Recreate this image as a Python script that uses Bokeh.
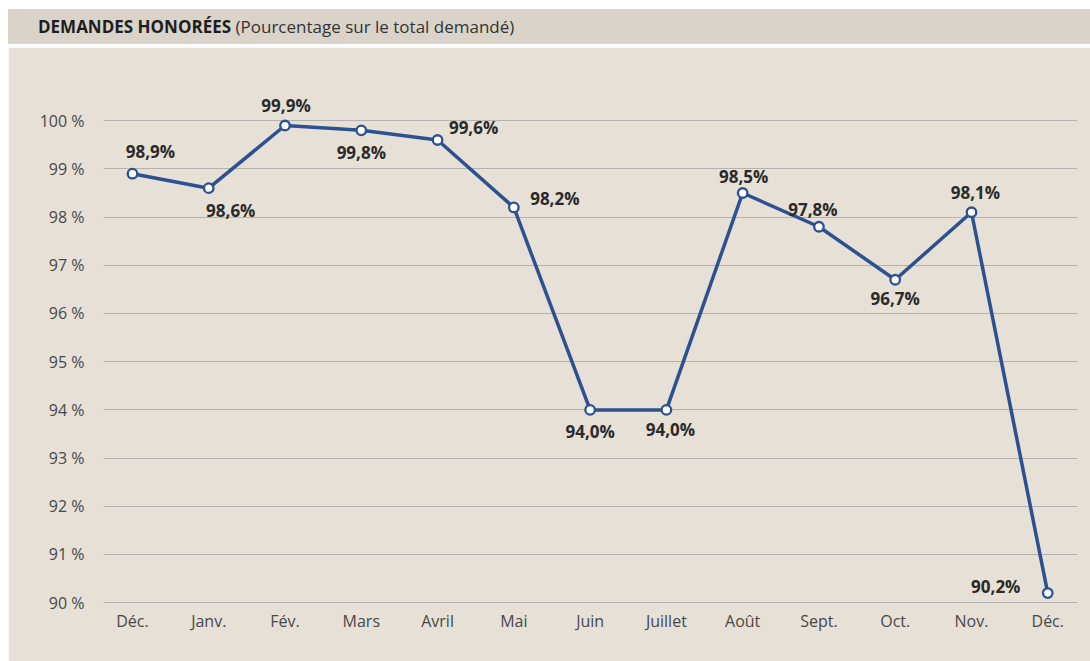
from bokeh.plotting import figure
from bokeh.models import ColumnDataSource, FixedTicker, Div
from bokeh.layouts import column
from bokeh.embed import file_html
from bokeh.resources import INLINE
from bokeh.core.properties import value

# ---- data ----
months = ["Déc.", "Janv.", "Fév.", "Mars", "Avril", "Mai", "Juin",
          "Juillet", "Août", "Sept.", "Oct.", "Nov.", "Déc."]
pct = [98.9, 98.6, 99.9, 99.8, 99.6, 98.2, 94.0, 94.0, 98.5, 97.8, 96.7, 98.1, 90.2]
pct_labels = ["98,9%", "98,6%", "99,9%", "99,8%", "99,6%", "98,2%", "94,0%",
              "94,0%", "98,5%", "97,8%", "96,7%", "98,1%", "90,2%"]
y_ticks = list(range(90, 101))
y_tick_labels = [f"{v} %" for v in y_ticks]

# label placement (screen px offsets), style only
lab_dx = [18, 22, 1, 0, 36, 41, 0, 4, 1, -6, 0, 4, -52]
lab_dy = [-22, 22, -20, 22, -12, -9, 22, 20, -16, -17, 19, -20, -7]

BG = "#e6e0d7"
BAND = "#d9d3ca"
BLUE = "#2d5190"
FONT = "Open Sans"

idx = list(range(len(months)))
src = ColumnDataSource(dict(x=idx, y=pct, lab=pct_labels, dx=lab_dx, dy=lab_dy))

title = Div(
    text=('<div style="width:1082px;height:35px;background:%s;font-family:\'%s\';'
          'font-size:17px;line-height:35px;padding-left:30px;box-sizing:border-box;'
          'white-space:nowrap">'
          '<span style="font-weight:bold;color:#1e1e1e">DEMANDES HONORÉES</span>'
          '<span style="color:#333"> (Pourcentage sur le total demandé)</span></div>') % (BAND, FONT),
    width=1082, height=35, margin=0,
)

p = figure(width=1082, height=614, output_backend="svg", toolbar_location=None,
           x_range=(-0.38, 12.39), y_range=(89.9, 101.0),
           background_fill_color=BG, border_fill_color=BG, margin=0,
           min_border_left=95, min_border_right=13, min_border_top=25, min_border_bottom=54)
p.outline_line_color = BG
p.outline_line_width = 2

p.xgrid.grid_line_color = None
p.ygrid.grid_line_color = "#b4b2ae"
p.ygrid.grid_line_width = 1.2
p.ygrid.ticker = FixedTicker(ticks=y_ticks)

p.yaxis.ticker = FixedTicker(ticks=y_ticks)
p.yaxis.major_label_overrides = {v: l for v, l in zip(y_ticks, y_tick_labels)}
p.xaxis.ticker = FixedTicker(ticks=idx)
p.xaxis.major_label_overrides = {i: m for i, m in zip(idx, months)}
for ax in (p.xaxis, p.yaxis):
    ax.axis_line_color = None
    ax.major_tick_line_color = None
    ax.minor_tick_line_color = None
    ax.major_label_text_font = FONT
    ax.major_label_text_font_size = "16px"
    ax.major_label_text_color = "#484848"
p.yaxis.major_label_standoff = 13
p.xaxis.major_label_standoff = -4

p.line("x", "y", source=src, line_color=BLUE, line_width=3.5)
p.scatter("x", "y", source=src, size=9.5, fill_color="white", line_color=BLUE, line_width=2.3)
p.text("x", "y", text="lab", source=src, x_offset="dx", y_offset="dy",
       text_font=value(FONT), text_font_style="bold", text_font_size="17px",
       text_color="#2a2a2a", text_align="center", text_baseline="middle")

layout = column(title, p, spacing=3, margin=(9, 0, 0, 8))
open("out.html", "w").write(file_html(layout, INLINE))
